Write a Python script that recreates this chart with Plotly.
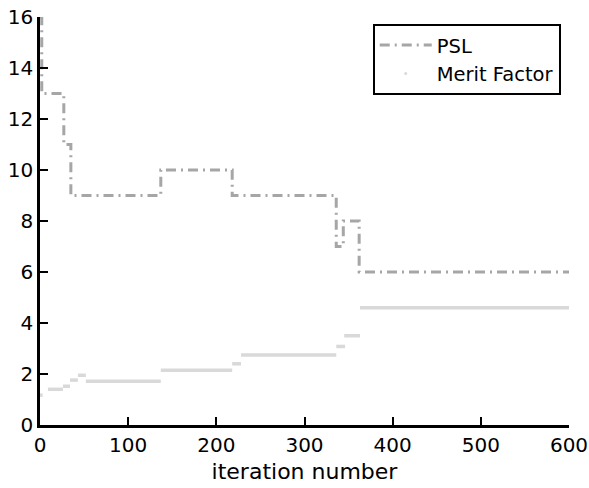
import plotly.graph_objects as go

# PSL step data (value holds from x until next x)
psl_x = [0, 2, 27, 35, 137, 218, 336, 344, 362, 600]
psl_y = [16, 13, 11, 9, 10, 9, 7, 8, 6, 6]

# Merit factor plateaus
mf_start = [0, 9, 26, 34, 43, 52, 137, 218, 228, 336, 345, 363]
mf_end = [3, 26, 34, 43, 52, 137, 218, 228, 336, 346, 363, 600]
mf_val = [1.17, 1.4, 1.52, 1.76, 1.95, 1.72, 2.15, 2.4, 2.75, 3.08, 3.5, 4.6]

x_ticks = [0, 100, 200, 300, 400, 500, 600]
y_ticks = [0, 2, 4, 6, 8, 10, 12, 14, 16]

mx, my = [], []
for s, e, v in zip(mf_start, mf_end, mf_val):
    mx += [s, e, None]
    my += [v, v, None]

FONT = "DejaVu Sans"
fig = go.Figure()
fig.add_trace(go.Scatter(
    x=psl_x, y=psl_y, mode="lines", name="PSL", line_shape="hv",
    line=dict(color="#a6a6a6", width=3, dash="10px,5px,2px,5px"),
))
fig.add_trace(go.Scatter(
    x=mx, y=my, mode="lines", name="Merit Factor", showlegend=False,
    line=dict(color="#d9d9d9", width=3.5),
))
fig.add_trace(go.Scatter(
    x=[None], y=[None], mode="markers", name="Merit Factor",
    marker=dict(color="#d9d9d9", size=3),
))

fig.update_layout(
    width=589, height=488,
    margin=dict(l=40, r=20, t=17, b=63),
    paper_bgcolor="white", plot_bgcolor="white",
    font=dict(family=FONT, size=20, color="black"),
    showlegend=True,
    legend=dict(
        x=0.629, y=0.983, xanchor="left", yanchor="top",
        bordercolor="black", borderwidth=2, bgcolor="white",
        font=dict(size=19.5, family=FONT), tracegroupgap=0,
        itemwidth=52,
    ),
    xaxis=dict(
        range=[0, 600], tickvals=x_ticks, ticks="inside", ticklen=8, tickwidth=2,
        tickcolor="black", showline=True, linecolor="black", linewidth=2.5,
        showgrid=False, zeroline=False, mirror=False, automargin=False,
        title=dict(text="iteration number", font=dict(size=22), standoff=8),
        tickfont=dict(size=20),
    ),
    yaxis=dict(
        range=[0, 16], tickvals=y_ticks, ticks="inside", ticklen=8, tickwidth=2,
        tickcolor="black", showline=True, linecolor="black", linewidth=2.5,
        showgrid=False, zeroline=False, mirror=False, automargin=False,
        tickfont=dict(size=20),
    ),
)

fig.write_html("out.html")
